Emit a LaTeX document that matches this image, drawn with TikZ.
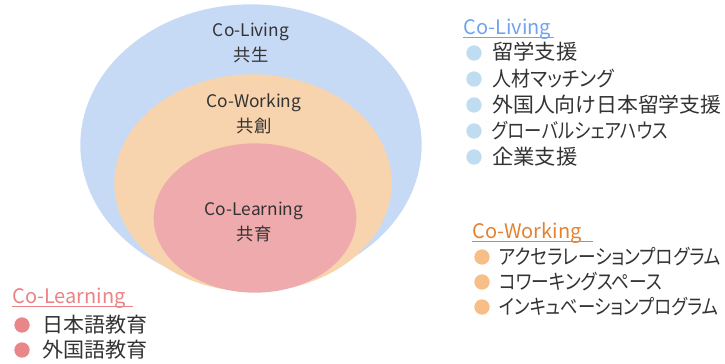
\documentclass[tikz,border=0pt]{standalone}
\usepackage{fontspec}
\usepackage{graphicx}
\setmainfont{Noto Sans CJK JP}[RawFeature=+palt]
\usetikzlibrary{shapes.geometric}
\definecolor{livfill}{HTML}{C6DAF6}
\definecolor{workfill}{HTML}{F8D4AE}
\definecolor{learnfill}{HTML}{EEAAAC}
\definecolor{livtitle}{HTML}{6FA2F2}
\definecolor{worktitle}{HTML}{E38232}
\definecolor{learntitle}{HTML}{EA8286}
\definecolor{livdot}{HTML}{C0DCF0}
\definecolor{workdot}{HTML}{F7BE88}
\definecolor{learndot}{HTML}{E8868A}
\definecolor{txt}{HTML}{333333}
% set a list entry to a given width, keeping its height
\newcommand{\fitw}[2]{\resizebox{#1}{\height}{#2}}
\tikzset{
  ring/.style={ellipse, draw=none, inner sep=0pt},
  ringlabel/.style={text=txt, font=\fontsize{13pt}{17pt}\selectfont, align=center, inner sep=0pt},
  ltitle/.style={anchor=base west, inner sep=0pt, font=\fontsize{15pt}{18pt}\selectfont},
  item/.style={anchor=base west, inner sep=0pt, text=txt, font=\fontsize{15.5pt}{18pt}\selectfont},
  dot/.style={circle, minimum size=11.5pt, inner sep=0pt, draw=none}
}
\begin{document}
\begin{tikzpicture}[x=0.75pt,y=-0.75pt]
\useasboundingbox (0,0) rectangle (725,364);
% nested circles
\node[ring, fill=livfill, minimum width=256pt, minimum height=211pt] (living) at (251,145) {};
\node[ring, fill=workfill, minimum width=208pt, minimum height=163pt] (working) at (253,183) {};
\node[ring, fill=learnfill, minimum width=152pt, minimum height=112pt] (learning) at (255,218) {};
\node[ringlabel] (livlbl) at (251,43) {Co-Living\\[2pt]共生};
\node[ringlabel] (worklbl) at (254,114) {Co-Working\\[2pt]共創};
\node[ringlabel] (learnlbl) at (254,222) {Co-Learning\\[2pt]共育};
% Co-Living list
\node[ltitle, text=livtitle] (livt) at (463,34) {Co-Living};
\draw[livtitle, line width=0.6pt] (livt.base west) ++(0,3.5) coordinate (lu1) -- ++(91,0) coordinate (lu2);
\node[dot, fill=livdot] (ld1) at (474,53) {};
\node[dot, fill=livdot] (ld2) at (474,79) {};
\node[dot, fill=livdot] (ld3) at (474,105) {};
\node[dot, fill=livdot] (ld4) at (474,131) {};
\node[dot, fill=livdot] (ld5) at (474,157) {};
\node[item] (li1) at (492,60) {\fitw{64pt}{留学支援}};
\node[item] (li2) at (492,86) {\fitw{91pt}{人材マッチング}};
\node[item] (li3) at (492,112) {\fitw{172pt}{外国人向け日本留学支援}};
\node[item] (li4) at (492,138) {\fitw{132pt}{グローバルシェアハウス}};
\node[item] (li5) at (492,164) {\fitw{64pt}{企業支援}};
% Co-Working list
\node[ltitle, text=worktitle] (workt) at (472,238) {Co-Working};
\draw[worktitle, line width=0.6pt] (workt.base west) ++(0,3.5) coordinate (wu1) -- ++(121,0) coordinate (wu2);
\node[dot, fill=workdot] (wd1) at (482,257) {};
\node[dot, fill=workdot] (wd2) at (482,282) {};
\node[dot, fill=workdot] (wd3) at (482,307) {};
\node[item] (wi1) at (499,264) {\fitw{166pt}{アクセラレーションプログラム}};
\node[item] (wi2) at (499,289) {\fitw{122pt}{コワーキングスペース}};
\node[item] (wi3) at (499,314) {\fitw{164pt}{インキュベーションプログラム}};
% Co-Learning list
\node[ltitle, text=learntitle] (learnt) at (12,303) {Co-Learning};
\draw[learntitle, line width=0.6pt] (learnt.base west) ++(0,3.5) coordinate (nu1) -- ++(121,0) coordinate (nu2);
\node[dot, fill=learndot] (nd1) at (22,325) {};
\node[dot, fill=learndot] (nd2) at (22,350) {};
\node[item] (ni1) at (42,332) {\fitw{79pt}{日本語教育}};
\node[item] (ni2) at (42,357) {\fitw{79pt}{外国語教育}};
\end{tikzpicture}
\end{document}
